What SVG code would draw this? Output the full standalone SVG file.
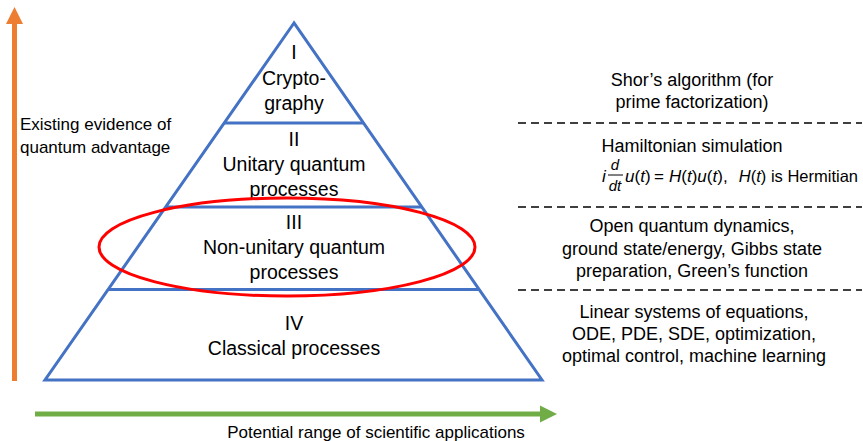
<svg xmlns="http://www.w3.org/2000/svg" width="863" height="441" viewBox="0 0 863 441">
<style>
text{font-family:"Liberation Sans",Arial,sans-serif;fill:#000}
.t{font-size:19.5px;text-anchor:middle}
.r{font-size:18px;text-anchor:middle}
.l{font-size:17px}
.f{font-size:17px}
.tier{fill:none;stroke:#4472C4;stroke-width:3}
.dash{stroke:#000;stroke-width:1.5;stroke-dasharray:8 5}
.it{font-style:italic}
</style>
<rect width="863" height="441" fill="#fff"/>
<g id="axes">
<line x1="14.5" y1="381" x2="14.5" y2="22" stroke="#ED7D31" stroke-width="5"/>
<polygon points="6,24 14.5,7 23,24" fill="#ED7D31"/>
<line x1="35" y1="414" x2="542" y2="414" stroke="#70AD47" stroke-width="5"/>
<polygon points="540,405.5 557,414 540,422.5" fill="#70AD47"/>
</g>
<g id="pyramid">
<polygon class="tier" points="294,23 45,380 542,380"/>
<line class="tier" x1="224" y1="123" x2="364" y2="123"/>
<line class="tier" x1="166" y1="207" x2="422" y2="207"/>
<line class="tier" x1="108" y1="289.5" x2="479" y2="289.5"/>
</g>
<g id="tier1">
<text class="t" x="294" y="59">I</text>
<text class="t" x="294" y="85">Crypto-</text>
<text class="t" x="294" y="110">graphy</text>
</g>
<g id="tier2">
<text class="t" x="294" y="146">II</text>
<text class="t" x="294" y="171">Unitary quantum</text>
<text class="t" x="294" y="196">processes</text>
</g>
<g id="tier3">
<text class="t" x="294" y="229">III</text>
<text class="t" x="294" y="254">Non-unitary quantum</text>
<text class="t" x="294" y="279">processes</text>
</g>
<g id="tier4">
<text class="t" x="294" y="330">IV</text>
<text class="t" x="294" y="355">Classical processes</text>
</g>
<g id="highlight">
<ellipse cx="287" cy="247" rx="188" ry="49" fill="none" stroke="#FF0000" stroke-width="3"/>
</g>
<g id="labels">
<text class="l" x="20" y="130">Existing evidence of</text>
<text class="l" x="20" y="153">quantum advantage</text>
<text class="l" x="376" y="438" text-anchor="middle" font-size="17.5">Potential range of scientific applications</text>
</g>
<g id="separators">
<line class="dash" x1="518" y1="123" x2="862" y2="123"/>
<line class="dash" x1="518" y1="207" x2="862" y2="207"/>
<line class="dash" x1="518" y1="290" x2="862" y2="290"/>
</g>
<g id="app1">
<text class="r" x="692" y="86">Shor’s algorithm (for</text>
<text class="r" x="692" y="108">prime factorization)</text>
</g>
<g id="app2">
<text class="r" x="692" y="152">Hamiltonian simulation</text>
<text class="f it" x="602" y="182">i</text>
<text x="615" y="170" font-size="15" text-anchor="middle" class="it">d</text>
<line x1="608" y1="175" x2="623" y2="175" stroke="#000" stroke-width="1"/>
<text x="615" y="191" font-size="15" text-anchor="middle" class="it">dt</text>
<text class="f" x="625" y="182"><tspan class="it">u</tspan>(<tspan class="it">t</tspan>)</text>
<text class="f" x="659" y="182" text-anchor="middle">=</text>
<text class="f" x="669" y="182"><tspan class="it">H</tspan>(<tspan class="it">t</tspan>)<tspan class="it">u</tspan>(<tspan class="it">t</tspan>),</text>
<text font-size="16.5" x="858" y="182" text-anchor="end"><tspan class="it">H</tspan>(<tspan class="it">t</tspan>) is Hermitian</text>
</g>
<g id="app3">
<text class="r" x="692" y="232">Open quantum dynamics,</text>
<text class="r" x="692" y="255">ground state/energy, Gibbs state</text>
<text class="r" x="692" y="277">preparation, Green’s function</text>
</g>
<g id="app4">
<text class="r" x="694" y="318">Linear systems of equations,</text>
<text class="r" x="694" y="340">ODE, PDE, SDE, optimization,</text>
<text class="r" x="694" y="362">optimal control, machine learning</text>
</g>
</svg>
